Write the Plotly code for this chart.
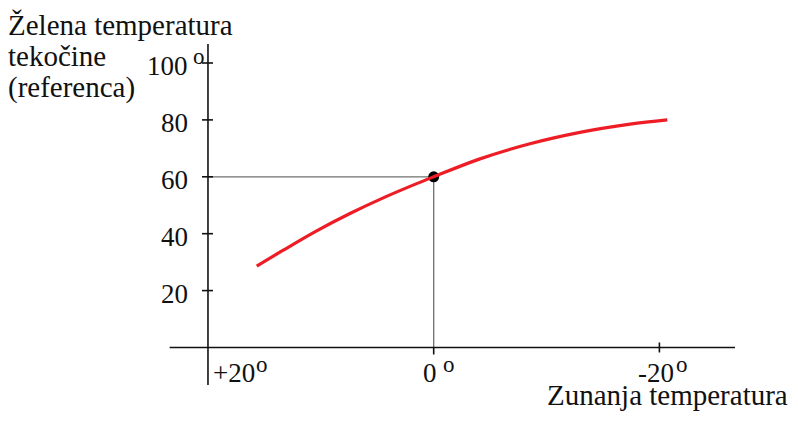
import plotly.graph_objects as go

# ---- data ----
outside_temp = [15.68, 13.33, 10.37, 7.42, 4.47, 1.51, 0.0, -4.1, -8.53, -12.96, -17.4, -20.7]
flow_temp = [28.6, 34.2, 41.0, 47.1, 52.6, 57.6, 60.0, 66.3, 71.6, 75.6, 78.5, 80.0]
ref_point_x = [0]
ref_point_y = [60]
y_tick_values = [20, 40, 60, 80, 100]
x_tick_values = [20, 0, -20]
x_tick_labels = ["+20", "0", "-20"]
degree_mark = "o"
y_title_lines = ["Želena temperatura", "tekočine", "(referenca)"]
x_title = "Zunanja temperatura"

FONT = "Liberation Serif"
FS_TICK = 27
FS_TITLE = 29
FS_DEG = 23
BLACK = "#111111"

fig = go.Figure()

# reference marker (under the curve)
fig.add_trace(go.Scatter(x=ref_point_x, y=ref_point_y, mode="markers",
                         marker=dict(color="black", size=11), showlegend=False,
                         hoverinfo="skip"))
# heating curve
fig.add_trace(go.Scatter(x=outside_temp, y=flow_temp, mode="lines",
                         line=dict(color="#EE1C25", width=3.2, shape="spline", smoothing=1.0),
                         showlegend=False))

shapes = []
# axis lines
shapes.append(dict(type="line", xref="x", yref="y", x0=23.4, x1=-26.7, y0=0, y1=0,
                   line=dict(color=BLACK, width=1.6)))
shapes.append(dict(type="line", xref="x", yref="y", x0=x_tick_values[0], x1=x_tick_values[0],
                   y0=-13.2, y1=106.7, line=dict(color=BLACK, width=1.6)))
# y ticks (crossing the axis)
for v in y_tick_values:
    shapes.append(dict(type="line", xref="x", yref="y", xsizemode="pixel",
                       xanchor=x_tick_values[0], x0=-6, x1=5, y0=v, y1=v,
                       line=dict(color=BLACK, width=1.6)))
# x ticks
shapes.append(dict(type="line", xref="x", yref="y", ysizemode="pixel", yanchor=0,
                   x0=x_tick_values[1], x1=x_tick_values[1], y0=-7, y1=0,
                   line=dict(color=BLACK, width=1.6)))
shapes.append(dict(type="line", xref="x", yref="y", ysizemode="pixel", yanchor=0,
                   x0=x_tick_values[2], x1=x_tick_values[2], y0=-5, y1=5,
                   line=dict(color=BLACK, width=1.6)))
# guide lines to the reference point
shapes.append(dict(type="line", xref="x", yref="y", x0=x_tick_values[0], x1=ref_point_x[0],
                   y0=ref_point_y[0], y1=ref_point_y[0], line=dict(color="#707070", width=1.3),
                   layer="below"))
shapes.append(dict(type="line", xref="x", yref="y", x0=ref_point_x[0], x1=ref_point_x[0],
                   y0=0, y1=ref_point_y[0], line=dict(color="#707070", width=1.3),
                   layer="below"))

ann = []
# y tick labels
for v in y_tick_values:
    ann.append(dict(x=x_tick_values[0], y=v, xref="x", yref="y", text=str(v),
                    showarrow=False, xanchor="right", yanchor="middle", borderpad=0,
                    xshift=-19, yshift=-3, font=dict(family=FONT, size=FS_TICK, color=BLACK)))
# degree mark on 100
ann.append(dict(x=x_tick_values[0], y=y_tick_values[-1], xref="x", yref="y", text=degree_mark,
                showarrow=False, xanchor="center", yanchor="middle", xshift=-9, yshift=6,
                borderpad=0, font=dict(family=FONT, size=FS_DEG, color=BLACK)))
# x tick labels + degree marks
num_shifts = [26, -3.5, -3.5]
deg_shifts = [54, 15.5, 22.5]
for v, t, ns, ds in zip(x_tick_values, x_tick_labels, num_shifts, deg_shifts):
    ann.append(dict(x=v, y=0, xref="x", yref="y", text=t, showarrow=False,
                    xanchor="center", yanchor="middle", xshift=ns, yshift=-26, borderpad=0,
                    font=dict(family=FONT, size=FS_TICK, color=BLACK)))
    ann.append(dict(x=v, y=0, xref="x", yref="y", text=degree_mark, showarrow=False,
                    xanchor="center", yanchor="middle", xshift=ds, yshift=-17.5, borderpad=0,
                    font=dict(family=FONT, size=FS_DEG, color=BLACK)))
# axis titles
for i, line in enumerate(y_title_lines):
    ann.append(dict(x=0, y=1, xref="paper", yref="paper", text=line, showarrow=False,
                    xanchor="left", yanchor="top", xshift=-1, yshift=-(0 + 31 * i), borderpad=0,
                    font=dict(family=FONT, size=FS_TITLE, color=BLACK)))
ann.append(dict(x=1, y=0, xref="paper", yref="paper", text=x_title, showarrow=False,
                xanchor="right", yanchor="bottom", xshift=-9, yshift=3, borderpad=0,
                font=dict(family=FONT, size=FS_TITLE, color=BLACK)))

fig.update_layout(
    width=790, height=407,
    margin=dict(l=0, r=0, t=0, b=0),
    paper_bgcolor="white", plot_bgcolor="white",
    xaxis=dict(range=[37.72, -32.28], visible=False, showgrid=False, zeroline=False),
    yaxis=dict(range=[-23.73, 119.33], visible=False, showgrid=False, zeroline=False),
    shapes=shapes, annotations=ann,
)

fig.write_html("out.html")
